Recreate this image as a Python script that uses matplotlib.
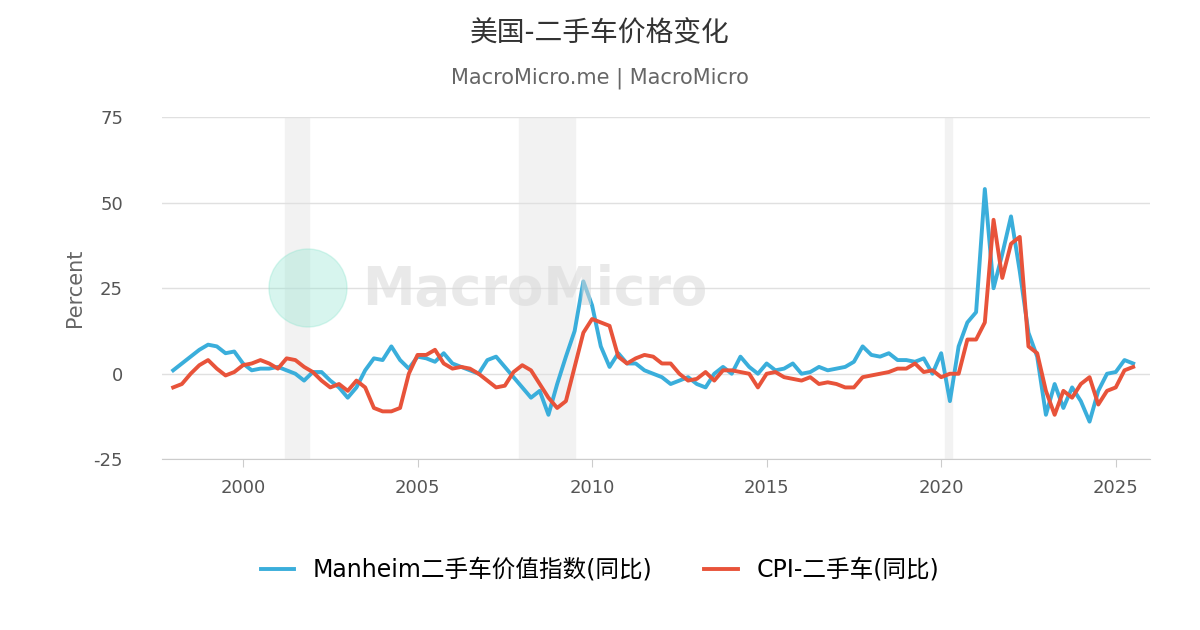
import numpy as np
import matplotlib.pyplot as plt
from matplotlib.patches import Ellipse

plt.rcParams['font.family'] = ['DejaVu Sans', 'Noto Sans CJK SC']
plt.rcParams['axes.unicode_minus'] = False

# quarterly readings, year fraction
years_manheim = np.arange(1998.0, 2025.51, 0.25)
manheim = [1, 3, 5, 7, 8.5, 8, 6, 6.5, 3, 1, 1.5, 1.5, 2, 1, 0, -2,
           0.5, 0.5, -2, -4, -7, -4, 1, 4.5, 4, 8, 4, 1.5, 5, 4.5, 3.5, 6,
           3, 2, 1, 0, 4, 5, 2, -1, -4, -7, -5, -12, -3, 5, 12.5, 27,
           20, 8, 2, 6, 3, 3, 1, 0, -1, -3, -2, -1, -3, -4, 0, 2,
           0, 5, 2, 0, 3, 1, 1.5, 3, 0, 0.5, 2, 1, 1.5, 2, 3.5, 8,
           5.5, 5, 6, 4, 4, 3.5, 4.5, 0, 6, -8, 8, 15, 18, 54, 25, 35,
           46, 30, 12, 5, -12, -3, -10, -4, -8, -14, -5, 0, 0.5, 4, 3]
years_cpi = np.arange(1998.0, 2025.51, 0.25)
cpi = [-4, -3, 0, 2.5, 4, 1.5, -0.5, 0.5, 2.5, 3, 4, 3, 1.5, 4.5, 4, 2,
       0.5, -2, -4, -3, -5, -2, -4, -10, -11, -11, -10, 0, 5.5, 5.5, 7, 3,
       1.5, 2, 1.5, 0, -2, -4, -3.5, 0.5, 2.5, 1, -3, -7, -10, -8, 2, 12,
       16, 15, 14, 5, 3, 4.5, 5.5, 5, 3, 3, 0, -2, -1.5, 0.5, -2, 1,
       1, 0.5, 0, -4, 0, 0.5, -1, -1.5, -2, -1, -3, -2.5, -3, -4, -4, -1,
       -0.5, 0, 0.5, 1.5, 1.5, 3, 0.5, 1, -1, 0, 0, 10, 10, 15, 45, 28,
       38, 40, 8, 6, -5, -12, -5, -7, -3, -1, -9, -5, -4, 1, 2]
recessions = [(2001.2, 2001.9), (2007.9, 2009.5), (2020.1, 2020.3)]

fig = plt.figure(figsize=(12, 6.3), dpi=100)
ax = fig.add_axes([0.135, 0.271, 0.823, 0.543])

for a, b in recessions:
    ax.axvspan(a, b, color='#f2f2f2', zorder=0)

ax.plot(years_manheim, manheim, color='#3aaedb', lw=2.8, label='Manheim二手车价值指数(同比)', zorder=3)
ax.plot(years_cpi, cpi, color='#e8533a', lw=2.8, label='CPI-二手车(同比)', zorder=3)

ax.set_xlim(1997.68, 2025.97)
ax.set_ylim(-25, 75)
ax.set_yticks([-25, 0, 25, 50, 75])
ax.set_xticks([2000, 2005, 2010, 2015, 2020, 2025])
ax.grid(axis='y', color='#e0e0e0', lw=1)
ax.set_axisbelow(True)
for s in ['top', 'right', 'left']:
    ax.spines[s].set_visible(False)
ax.spines['bottom'].set_color('#cccccc')
ax.tick_params(axis='y', length=0, labelsize=13, colors='#555555', pad=28)
ax.tick_params(axis='x', length=6, color='#cccccc', labelsize=13, labelcolor='#555555', pad=8)
ax.set_ylabel('Percent', fontsize=15, color='#666666', labelpad=6)

# watermark
fig.patches.append(Ellipse((308 / 1200, 1 - 288 / 630), 78 / 1200, 78 / 630,
                           transform=fig.transFigure, color='#8ee5cf', alpha=0.35, zorder=1))
fig.text(0.302, 1 - 290 / 630, 'MacroMicro', fontsize=38, fontweight='bold',
         color='#d8d8d8', alpha=0.55, va='center', ha='left', zorder=1)

fig.text(0.5, 1 - 33 / 630, '美国-二手车价格变化', fontsize=20, color='#333333', ha='center', va='center')
fig.text(0.5, 1 - 78 / 630, 'MacroMicro.me | MacroMicro', fontsize=15, color='#666666', ha='center', va='center')

fig.legend(loc='center', bbox_to_anchor=(0.5, 1 - 570 / 630), ncol=2, frameon=False,
           fontsize=17, handlelength=1.4, columnspacing=2.2)

fig.savefig('out.png', dpi=100)
